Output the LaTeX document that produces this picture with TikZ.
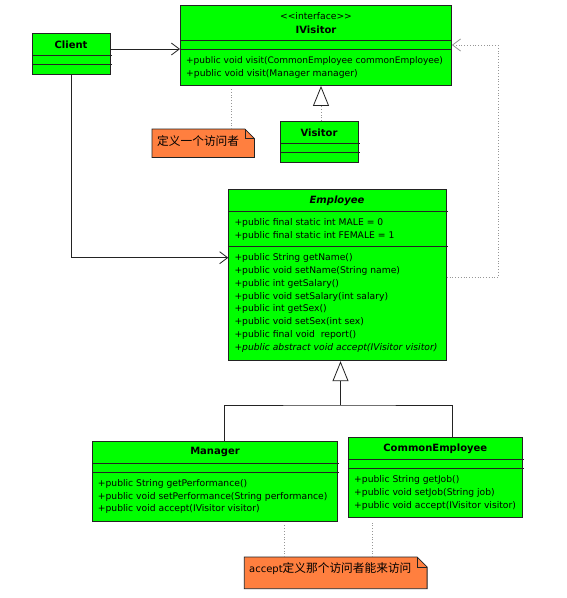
\documentclass[tikz,border=0pt]{standalone}
\usepackage{fontspec}
\setmainfont{DejaVu Sans}
\newfontfamily\cjk{Noto Sans CJK SC}
\usetikzlibrary{arrows.meta,calc}
\definecolor{umlgreen}{RGB}{0,255,0}
\definecolor{noteorange}{RGB}{255,127,63}
\definecolor{edgec}{RGB}{35,35,35}
\definecolor{dotc}{RGB}{150,150,150}
\tikzset{
  cls/.style={draw=edgec, fill=umlgreen, line width=0.9pt, anchor=north west, inner sep=0pt},
  txt/.style={anchor=west, inner sep=0pt, font=\fontsize{9.2}{11}\selectfont},
  itxt/.style={txt, font=\itshape\fontsize{9.2}{11}\selectfont},
  ttl/.style={inner sep=0pt, font=\bfseries\fontsize{10}{12}\selectfont},
  sepline/.style={draw=edgec, line width=0.8pt},
  conn/.style={draw=edgec, line width=0.8pt},
  assoc/.style={conn, -{Straight Barb[length=8pt,width=12pt,line width=0.8pt]}},
  depend/.style={draw=dotc, dotted, line width=0.8pt, -{Straight Barb[length=8pt,width=12pt,line width=0.8pt]}},
  realize/.style={draw=dotc, dotted, line width=0.8pt, -{Triangle[open,length=20pt,width=16pt,color=edgec,line width=0.8pt]}},
  generalize/.style={conn, -{Triangle[open,length=20pt,width=16pt,line width=0.8pt]}},
  notelink/.style={draw=dotc, dotted, line width=0.8pt},
  notebox/.style={anchor=north west, inner sep=0pt},
  notedraw/.style={draw=edgec, fill=noteorange, line width=0.8pt},
}
\begin{document}
\begin{tikzpicture}[x=1pt,y=-1pt]
\useasboundingbox[fill=white] (0,0) rectangle (566,598);

% ---------- Client
\node[cls, minimum width=78, minimum height=41] (client) at (32,33) {};
\node[ttl] (clientT) at (71,44.5) {Client};
\draw[sepline] ($(client.north west)+(0,22)$) -- ($(client.north east)+(1,22)$);
\draw[sepline] ($(client.north west)+(0,31)$) -- ($(client.north east)+(1,31)$);

% ---------- IVisitor
\node[cls, minimum width=271, minimum height=80] (ivisitor) at (180,5) {};
\node[inner sep=0pt, font=\fontsize{9.2}{11}\selectfont] (ivS) at (316,16.5) {<\kern0pt<interface>\kern0pt>};
\node[ttl] (ivT) at (316,29.5) {IVisitor};
\draw[sepline] ($(ivisitor.north west)+(0,35.5)$) -- ($(ivisitor.north east)+(0,35.5)$);
\draw[sepline] ($(ivisitor.north west)+(0,44)$) -- ($(ivisitor.north east)+(0,44)$);
\node[txt, font=\fontsize{9}{11}\selectfont] (iv1) at (186,61) {+public void visit(CommonEmployee commonEmployee)};
\node[txt] (iv2) at (186,73.5) {+public void visit(Manager manager)};

% ---------- Visitor
\node[cls, minimum width=78, minimum height=41] (visitor) at (280,121) {};
\node[ttl] (visT) at (319,133) {Visitor};
\draw[sepline] ($(visitor.north west)+(0,22.5)$) -- ($(visitor.north east)+(1,22.5)$);
\draw[sepline] ($(visitor.north west)+(0,31.5)$) -- ($(visitor.north east)+(1,31.5)$);

% ---------- Employee
\node[cls, minimum width=217.5, minimum height=171] (employee) at (228.3,189.3) {};
\node[ttl, font=\bfseries\itshape\fontsize{10}{12}\selectfont] (empT) at (337,200.7) {Employee};
\draw[sepline] ($(employee.north west)+(0,22.4)$) -- ($(employee.north east)+(1,22.4)$);
\draw[sepline] ($(employee.north west)+(0,57)$) -- ($(employee.north east)+(1,57)$);
\node[txt] (e1) at (234.3,222.7) {+public final static int MALE = 0};
\node[txt] (e2) at (234.3,235.7) {+public final static int FEMALE = 1};
\node[txt] (e3) at (234.3,257.7) {+public String getName()};
\node[txt] (e4) at (234.3,270.6) {+public void setName(String name)};
\node[txt] (e5) at (234.3,283.5) {+public int getSalary()};
\node[txt] (e6) at (234.3,296.5) {+public void setSalary(int salary)};
\node[txt] (e7) at (234.3,309.4) {+public int getSex()};
\node[txt] (e8) at (234.3,322.4) {+public void setSex(int sex)};
\node[txt] (e9) at (234.3,335.3) {+public final void\ \ report()};
\node[itxt] (e10) at (234.3,348.3) {+public abstract void accept(IVisitor visitor)};

% ---------- Manager
\node[cls, minimum width=245, minimum height=80] (manager) at (92.3,441.3) {};
\node[ttl] (manT) at (215,452.3) {Manager};
\draw[sepline] ($(manager.north west)+(0,22)$) -- ($(manager.north east)+(1,22)$);
\draw[sepline] ($(manager.north west)+(0,31)$) -- ($(manager.north east)+(1,31)$);
\node[txt] (m1) at (97.7,484) {+public String getPerformance()};
\node[txt] (m2) at (97.7,496.7) {+public void setPerformance(String performance)};
\node[txt] (m3) at (97.7,509.3) {+public void accept(IVisitor visitor)};

% ---------- CommonEmployee
\node[cls, minimum width=174, minimum height=79.7] (ce) at (348.3,437.3) {};
\node[ttl] (ceT) at (435.3,448.5) {CommonEmployee};
\draw[sepline] ($(ce.north west)+(0,22)$) -- ($(ce.north east)+(1,22)$);
\draw[sepline] ($(ce.north west)+(0,31)$) -- ($(ce.north east)+(1,31)$);
\node[txt] (c1) at (354,480) {+public String getJob()};
\node[txt] (c2) at (354,492.7) {+public void setJob(String job)};
\node[txt] (c3) at (354,505.7) {+public void accept(IVisitor visitor)};

% ---------- Note 1
\node[notebox, minimum width=102, minimum height=28] (note1) at (152,129) {};
\draw[notedraw] (note1.south west) -- (note1.north west) -- ($(note1.north east)+(-9.5,0)$) -- ($(note1.north east)+(0,9.5)$) -- (note1.south east) -- cycle;
\draw[conn] ($(note1.north east)+(-9.5,0)$) -- ($(note1.north east)+(-9.5,9.5)$) -- ($(note1.north east)+(0,9.5)$);
\node[anchor=west, inner sep=0pt, font=\cjk\fontsize{11.7}{12}\selectfont] (note1T) at (157,141.5) {定义一个访问者};

% ---------- Note 2
\node[notebox, minimum width=182.4, minimum height=31.3] (note2) at (244.3,557) {};
\draw[notedraw] (note2.south west) -- (note2.north west) -- ($(note2.north east)+(-10,0)$) -- ($(note2.north east)+(0,10)$) -- (note2.south east) -- cycle;
\draw[conn] ($(note2.north east)+(-10,0)$) -- ($(note2.north east)+(-10,10)$) -- ($(note2.north east)+(0,10)$);
\node[anchor=west, inner sep=0pt, font=\fontsize{10}{12}\selectfont] (note2T) at (249,568.7) {accept{\cjk\fontsize{11.7}{12}\selectfont 定义那个访问者能来访问}};

% ---------- connectors
\draw[assoc] ($(client.north east)+(0,16)$) -- ($(ivisitor.north west)+(0,44)$);
\coordinate (empIn) at ($(employee.north west)+(0,68.4)$);
\draw[assoc] (client.south) |- (empIn);
\coordinate (depOut) at ($(employee.north east)+(0,88)$);
\coordinate (depIn) at ($(ivisitor.north east)+(0,40)$);
\coordinate (depCorner) at ($(depIn)+(46,0)$);
\draw[depend] (depOut) -| (depCorner) -- (depIn);
\coordinate (visTop) at ($(visitor.north west)+(41,0)$);
\coordinate (ivBot) at ($(ivisitor.south west)+(141,0)$);
\draw[realize] (visTop) -- (ivBot);
\coordinate (jn) at (340.5,405);
\coordinate (eTip) at ($(employee.south west)+(112.2,0)$);
\coordinate (mTop) at ($(manager.north west)+(132,0)$);
\coordinate (cTop) at ($(ce.north west)+(103.7,0)$);
\draw[conn] (mTop) |- (jn) -| (cTop);
\draw[generalize] (jn) -- (eTip);
\draw[notelink] ($(note1.north west)+(79,0)$) -- ($(ivisitor.south west)+(51,3)$);
\draw[notelink] ($(note2.north west)+(40,0)$) -- ($(manager.south west)+(192,3)$);
\draw[notelink] ($(note2.north west)+(128.4,0)$) -- ($(ce.south west)+(24.4,3)$);
\end{tikzpicture}
\end{document}
